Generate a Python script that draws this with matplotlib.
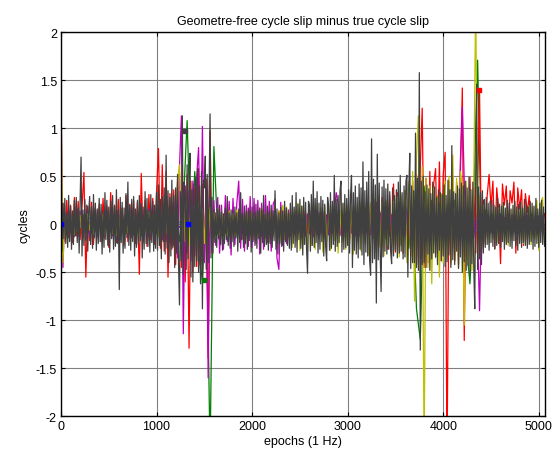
import numpy as np
import matplotlib
matplotlib.use("Agg")
import matplotlib.pyplot as plt

plt.rcParams['font.family'] = ['Liberation Sans', 'DejaVu Sans']

# all series values are in hundredths of a cycle
# sample spacing (epochs) for each series
gray_step, red_step, mag_step, yel_step, grn_step, blu_step, cyn_step = 10, 20, 20, 20, 40, 160, 160

gray_vals = [
    88, -28, 22, -15, 27, -20, 12, -24, 30, -18, 19, -26, 14, -21, 25, -12, 28, -19, 17, -30,
    24, 70, -33, 15, -22, 26, -17, 20, -28, 13, 29, -21, 18, -25, 31, -14, 22, -27, 16, -20,
    27, -18, 21, -31, 14, -24, 33, -16, 25, -22, 18, -29, 24, -15, 30, -26, 19, -23, 36, -20,
    15, -68, 28, -19, 23, -30, 17, -25, 32, -14, 44, -22, 20, -27, 26, -18, 29, -33, 16, -24,
    25, -21, 30, -17, 22, -35, 18, -26, 34, -20, 27, -23, 15, -29, 31, -19, 24, -28, 20, -25,
    33, -27, 41, -22, 26, -36, 29, -18, 38, -31, 72, -25, 35, -40, 28, -33, 46, -24, 30, -45,
    38, -30, 52, -41, -84, 34, -38, 113, -52, 44, 30, -47, 62, -36, 40, 74, -55, 36, -60, 42,
    -44, 49, -38, 58, -50, 40, -62, 55, -88, 46, 38, 71, -47, 52, -40, 36, 115, -35, 28, -30,
    15, -19, 12, -24, 16, -15, 20, -21, 13, -27, 11, -20, 17, -16, 29, -22, 12, -25, 15, -18,
    14, -23, 18, -14, 12, -28, 16, -19, 33, -16, 11, -24, 19, -20, 13, -26, 17, -17, 14, -29,
    18, -18, 12, -22, 21, -25, 14, -15, 17, -30, 15, -19, 30, -23, 11, -21, 19, -27, 13, -20,
    20, -24, 14, -17, 35, -26, 16, -31, 12, -20, 18, -23, 14, -28, 24, -18, 17, -22, 12, -25,
    22, -27, 30, -20, 18, -24, 33, -29, 21, -16, 26, -25, 19, -32, 28, -21, 23, -26, -51, 24,
    20, -28, 31, -22, 45, -24, 27, -19, 34, -30, 22, -26, 29, -18, 25, -33, 21, -24, -38, 28,
    19, -27, 33, -25, 24, -21, 51, -28, 26, -23, 30, -19, 35, 45, -29, 22, -26, 31, -24, 27,
    -22, 36, -30, 29, 51, -45, 33, -27, 40, -31, 28, -35, 42, -26, 38, -32, 65, -42, 35, -29,
    44, -33, 55, -38, -53, 89, -40, 47, -36, 41, -82, 73, -37, 43, -30, -70, 39, -34, 46, -28,
    37, -31, 42, -26, 34, -29, -41, 38, -33, 30, -27, 36, -35, 44, -30, 51, -28, 33, -36, 40,
    -34, 45, 51, -55, 38, 74, -46, 40, -40, 35, -40, 95, -45, 48, -48, 158, -131, 45, -42, 50,
    -40, 34, -45, 41, -31, 37, -48, 32, -36, 44, -30, 39, -34, 28, -42, 36, -27, 33, -38, 31,
    -33, 41, -44, 30, -39, 46, -32, 36, -45, 82, -37, 34, -42, 32, -28, 40, -46, 37, -34, 43,
    -50, 40, -39, 45, -48, 38, -43, 49, -52, 36, -41, 44, -46, -88, 50, 146, -47, 39, -36, 33,
    -42, 35, -30, 26, -24, 28, -21, 22, -27, 24, -19, 25, -23, 20, -26, 18, -22, 27, -20, 21,
    -24, 19, -18, 23, -26, 17, -21, 25, -19, 22, -23, 16, -25, 20, -17, 24, -22, 18, -27, 21,
    -20, 23, -24, 17, -19, 26, -22, 20, -25, 18, -21, 24, -18, 22, -26, 19, -23, 27, -20, 16,
    -24, 22, -19, 25, -21, 18, -23,
]

red_vals = [
    12, 22, -18, 25, -14, 20, -19, 28, -12, 24, -16, 18, 54, -55, 19, -17, 23, -21, 16, -13,
    21, -18, 27, -15, 19, -24, 33, -12, 20, -19, 26, -16, 17, -22, 30, -18, 21, -14, 25, -20,
    23, -52, 53, -19, 25, -23, 31, -16, 27, -21, 34, 79, -25, 62, -28, 55, -55, 32, -26, 36,
    -42, 48, 54, -45, 40, -60, 52, -129, 45, -50, 38, -44, 58, -48, 42, -36, 47, -139, 97, -30,
    12, -10, 14, -13, 9, -11, 15, -8, 12, -14, 10, -12, 13, -9, 11, -15, 8, -10, 14, -12,
    11, -13, 9, -10, 15, -12, 10, -14, 12, -9, 13, -11, 8, -15, 14, -10, 11, -12, 9, -13,
    13, -11, 10, -14, 12, -9, 15, -12, 11, -10, 14, -13, 9, -11, 12, -15, 10, -12, 13, -9,
    12, -14, 11, -10, 15, -12, 9, -13, 14, -11, 10, -15, 13, -9, 12, -11, 16, -14, 10, -12,
    15, -18, 22, -16, 25, -20, 18, -22, 28, -19, 24, -26, 30, -21, 42, -29, 33, -24, 27, -30,
    35, -28, 40, -33, 45, -38, 52, -42, 60, 121, -45, 48, -40, 55, -35, 42, 58, -30, 65, -38,
    52, 75, -250, 45, -40, 50, -38, 44, -42, 55, 142, -121, 40, -35, 49, -33, 38, -30, 36, 140,
    -28, 25, -20, 30, 52, 18, 45, -25, 38, 15, -41, 42, 20, 40, -18, 35, 22, 44, -30, 38,
    16, 36, -22, 32, 12, 30, -15, 10, -12, 14, -10, 12, -8, 11,
]

magenta_vals = [
    140, -45, 12, -10, 15, -8, 11, -13, 9, -12, 14, -9, 10, -15, 13, -11, 8, -12, 16, -10,
    12, -14, 9, -11, 15, -10, 13, -12, 10, -16, 11, -9, 14, -13, 12, -10, 17, -11, 9, -14,
    13, -12, 18, -15, 11, -14, 16, -10, 20, -17, 14, -13, 19, -16, 22, -18, 15, -20, 24, -22,
    30, -35, 60, 113, -114, 40, -30, 35, -38, 45, -33, 50, 80, -42, 102, -40, 38, -160, 30, -28,
    25, -22, 28, -30, 20, -26, 30, -18, 24, -32, 27, -21, 22, 45, -25, 26, -28, 20, -23, 29,
    -24, 27, -20, 25, -31, 22, -26, 30, -19, 24, -28, 21, 26, -35, -47, 23, -22, 18, -20, 15,
    -12, 10, -11, 13, -9, 12, -14, 10, -12, 11, -10, 14, -13, 9, -11, 12, -10, 13, -12, 10,
    -11, 12, -9, 14, 33, 22, -12, 10, -13, 11, -10, 12, -9, 13, -11, 10, -12, 14, -10, 11,
    -9, 12, -11, 10, -13, 23, -10, 12, -14, 11, -9, 13, -12, 10, -11, 14, -10, 12, -13, 9,
    -12, 15, -14, 18, -20, 22, -16, 14, -18, 20, -15, 12, -17, 16, -14, 19, -20, 15, -12, 18,
    -16, 20, -22, 18, -15, 25, -20, 30, -25, 68, 122, 45, -20, 18, -15, 12, -14, 10, -12, -90,
    10, -8, 9, -10, 7, -9, 8, -7, 10, -8, 9, -10, 7, -9, 8, -7, 10, -8, 9, -10,
    7, -9, 8, -7, 10, -8, 9, -10, 7, -9, 8, -7, 9, -6,
]

yellow_vals = [
    137, -40, 8, -10, 12, -7, 9, -11, 6, -8, 10, -9, 7, -12, 11, -6, 8, -10, 9, -7,
    12, -8, 10, -11, 7, -9, 13, -10, 8, -12, 9, -7, 11, -10, 6, -9, 12, -8, 10, -11,
    9, -12, 7, -10, 11, -8, 13, -9, 10, -11, 8, -13, 12, -7, 9, -10, 14, -12, 11, -9,
    15, 45, 62, -20, 30, -18, 25, -22, 18, -15, 20, -25, 22, -18, 16, -20, 24, -14, 18, -16,
    12, -14, 16, -11, 13, -15, 10, -12, 14, -9, 11, -13, 15, -10, 12, -14, 9, -11, 13, -12,
    14, -16, 12, -13, 17, -11, 15, -14, 12, -18, 16, -13, 19, -15, 14, -17, 20, -16, 18, -14,
    17, -24, 15, -18, 22, -27, 19, -21, 14, -28, 18, -22, 16, -26, 21, -15, 17, -29, 19, -18,
    16, -27, 20, -17, 18, -30, 15, -19, 22, -26, 19, -20, 17, -31, 21, -18, 23, -28, 18, -20,
    20, -32, 22, -19, 26, -29, 18, -24, 23, -33, 25, -22, 19, -30, 24, -23, 28, -34, 30, -28,
    35, -40, 45, -38, 55, -80, 70, 113, -50, 60, -240, 48, -45, 40, -62, 38, -35, 30, -55, 32,
    -40, 45, -35, 50, -42, 72, -38, 48, -45, 55, 40, -105, 45, -40, 35, -48, 42, 240, -35, 30,
    -25, 20, -18, 15, -20, 18, -16, 14, -19, 17, -15, 20, -18, 16, -22, 15, -17, 19, -14, 16,
    -18, 15, -20, 17, -16, 19, -21, 18, -15, 25, -27, 22, 28, -20,
]

green_vals = [
    5, -8, 10, -6, 9, -10, 7, -9, 8, -7, 10, -12, 9, -8, 11, -9, 7, -10, 8, -11,
    9, -12, 10, -8, 12, -10, 14, -15, 18, -20, 15, -18, 20, 108, -25, 55, -30, -58, 25, -240,
    81, -10, 8, -9, 11, -7, 9, -10, 6, -8, 10, -9, 7, -11, 8, -6, 9, -10, 7, -8,
    11, -9, 8, -12, 10, -8, 9, -11, 7, -10, 12, -9, 8, -10, 11, -7, 9, -12, 10, -8,
    12, -10, 15, -12, 18, -15, 20, -18, 25, -22, 30, -25, 28, -88, -120, 40, -30, 25, -20, 22,
    -25, 20, -22, 25, -18, 22, -20, -62, 30, 171, -25, 15, -12, 10, -9, 11, -8, 10, -12, 9,
    -10, 8, -9, 11, -7, 9, -8,
]

blue_vals = [0, 4, -5, 3, -4, 5, -3, 4, -5, 2, -4, 3, -2, 4, -3, 5,
             -4, 3, -5, 4, -3, 2, -4, 5, -3, 4, -2, 3, -4, 2, -3, 2]
cyan_vals = [2, -6, 8, -5, 7, -8, 6, -7, 5, -6, 8, -5, 7, -6, 5, -8,
             6, -7, 8, -4, 6, -7, 5, -6, 7, -5, 6, -8, 5, -6, 7, -5]

# isolated points (epoch, cycles)
mark_epochs = [0, 1328, 1297, 1496, 4376]
mark_values = [0.0, 0.0, 0.97, -0.58, 1.40]
mark_colors = ['#0000ff', '#0000ff', '#404040', '#008000', '#ff0000']

xticks = [0, 1000, 2000, 3000, 4000, 5000]
yticks = [-2, -1.5, -1, -0.5, 0, 0.5, 1, 1.5, 2]
ytick_labels = ['-2', '-1.5', '-1', '-0.5', '0', '0.5', '1', '1.5', '2']

series = [
    (blue_vals, blu_step, '#0000ff'),
    (green_vals, grn_step, '#008000'),
    (red_vals, red_step, '#ff0000'),
    (cyan_vals, cyn_step, '#00bfbf'),
    (magenta_vals, mag_step, '#bf00bf'),
    (yellow_vals, yel_step, '#bfbf00'),
    (gray_vals, gray_step, '#404040'),
]

fig = plt.figure(figsize=(5.56, 4.64), dpi=100)
ax = fig.add_axes([0.1097, 0.1006, 0.8705, 0.8276])

for vals, step, col in series:
    x = np.arange(len(vals)) * step
    ax.plot(x, np.array(vals) / 100.0, color=col, lw=0.9)
for e, v, c in zip(mark_epochs, mark_values, mark_colors):
    ax.plot(e, v, 's', color=c, ms=2.5, mec=c)

ax.set_xlim(0, 5065)
ax.set_ylim(-2, 2)
ax.set_xticks(xticks)
ax.set_yticks(yticks)
ax.set_yticklabels(ytick_labels)
ax.grid(True, color='0.5', lw=0.8)
ax.set_axisbelow(True)
ax.tick_params(direction='in', top=True, right=True, length=3, labelsize=9, pad=3)
for s in ax.spines.values():
    s.set_linewidth(1.0)

ax.set_title('Geometre-free cycle slip minus true cycle slip', fontsize=9, pad=6)
ax.set_xlabel('epochs (1 Hz)', fontsize=9, labelpad=2)
ax.set_ylabel('cycles', fontsize=9, labelpad=4)

fig.savefig('out.png', dpi=100)
